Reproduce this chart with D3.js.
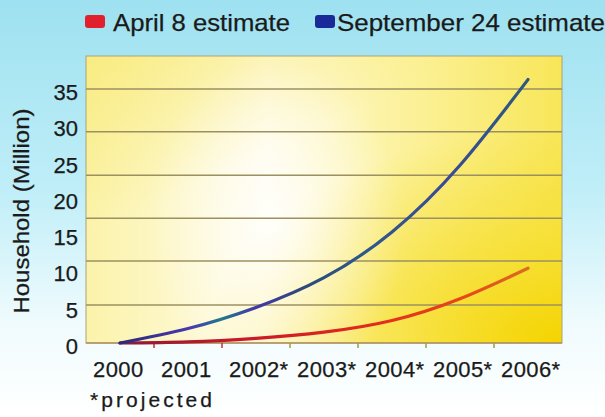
<!DOCTYPE html>
<html>
<head>
<meta charset="utf-8">
<script src="https://cdn.jsdelivr.net/npm/d3@7"></script>
<style>
  html, body { margin: 0; padding: 0; background: #fff; }
  svg { display: block; }
  text { font-family: "Liberation Sans", Arial, sans-serif; fill: #1a1a1a; stroke: #1a1a1a; stroke-width: 0.25px; }
</style>
</head>
<body>
<svg id="chart"></svg>
<script>
let years = ['2000', '2001', '2002*', '2003*', '2004*', '2005*', '2006*']
let april = [0, 0.15, 0.65, 1.5, 3.1, 6.1, 10.3]
let september = [0, 2.0, 4.9, 9.0, 15.3, 24.5, 36.3]
let y_ticks = [0, 5, 10, 15, 20, 25, 30, 35]
let grid_values = [5.25, 11.3, 17.2, 23.1, 29.1, 35]
let legend_items = ['April 8 estimate', 'September 24 estimate']

let width = 605
let height = 417

let pad = {
    'l': 86,
    'r': 43,
    't': 56,
    'b': 74
}

let svg = d3.select('#chart')
    .attr('width', width)
    .attr('height', height)

let defs = svg.append('defs')

function add_stops(grad, stops) {
    grad.selectAll('stop').data(stops).enter()
        .append('stop')
        .attr('offset', d => d[0])
        .attr('stop-color', d => d[1])
        .attr('stop-opacity', d => d.length > 2 ? d[2] : 1)
}

// page background, cyan fading to white
add_stops(defs.append('linearGradient')
    .attr('id', 'bg').attr('x1', 0).attr('y1', 0).attr('x2', 0).attr('y2', 1),
    [[0, '#9ee1f0'], [0.45, '#bfeef8'], [0.78, '#f0fbfd'], [1, '#ffffff']])

// plot area: pale yellow left, white middle, yellow right
add_stops(defs.append('linearGradient')
    .attr('id', 'plotbg').attr('x1', 0).attr('y1', 0).attr('x2', 1).attr('y2', 0),
    [[0, '#fbf3aa'], [0.38, '#fffbe8'], [0.62, '#fcf3a6'], [1, '#f8e658']])

add_stops(defs.append('linearGradient')
    .attr('id', 'topleft').attr('x1', 0).attr('y1', 0).attr('x2', 0.6).attr('y2', 0.8),
    [[0, '#f8ea78', 0.8], [0.5, '#f8ea78', 0], [1, '#f8ea78', 0]])

add_stops(defs.append('radialGradient')
    .attr('id', 'corner').attr('cx', 1).attr('cy', 1).attr('r', 0.75),
    [[0, '#f4d400', 1], [0.5, '#f6dc20', 0.6], [1, '#f6dc20', 0]])

add_stops(defs.append('radialGradient')
    .attr('id', 'glow').attr('cx', 0.5).attr('cy', 0.5).attr('r', 0.5),
    [[0, '#ffffff', 0.8], [0.6, '#ffffff', 0.3], [1, '#ffffff', 0]])

svg.append('rect')
    .attr('width', width).attr('height', height)
    .attr('fill', 'url(#bg)')

let x = d3.scaleBand()
    .domain(years)
    .range([pad.l, width - pad.r])
    .padding(0)

let y = d3.scaleLinear()
    .domain([0, 35])
    .range([height - pad.b, pad.t + 33])

let cx = d => x(d) + x.bandwidth() / 2

let plot_w = width - pad.l - pad.r
let plot_h = height - pad.b - pad.t

let plot = svg.append('g')
plot.selectAll('rect').data(['plotbg', 'topleft', 'corner']).enter()
    .append('rect')
    .attr('x', pad.l).attr('y', pad.t)
    .attr('width', plot_w).attr('height', plot_h)
    .attr('fill', d => `url(#${d})`)

svg.append('ellipse')
    .attr('cx', x('2003*') - 15).attr('cy', y(16))
    .attr('rx', 130).attr('ry', 170)
    .attr('fill', 'url(#glow)')

// frame
svg.append('rect')
    .attr('x', pad.l).attr('y', pad.t)
    .attr('width', plot_w).attr('height', plot_h)
    .attr('fill', 'none')
    .attr('stroke', '#a8a37a')
    .attr('stroke-width', 1)

svg.selectAll('line.grid').data(grid_values).enter()
    .append('line')
    .classed('grid', true)
    .attr('x1', pad.l).attr('x2', width - pad.r)
    .attr('y1', d => y(d)).attr('y2', d => y(d))
    .attr('stroke', '#9c9060')
    .attr('stroke-width', 1.5)

// bottom axis line and ticks between years
svg.append('line')
    .attr('x1', pad.l).attr('x2', width - pad.r)
    .attr('y1', y(0)).attr('y2', y(0))
    .attr('stroke', '#b09060')
    .attr('stroke-width', 1.5)

svg.selectAll('line.tick').data(years.slice(1)).enter()
    .append('line')
    .classed('tick', true)
    .attr('x1', d => x(d)).attr('x2', d => x(d))
    .attr('y1', y(0)).attr('y2', y(0) + 5)
    .attr('stroke', (d, i) => i < 2 ? '#c03040' : '#a0a040')
    .attr('stroke-width', 1.5)

// line gradients along x
let blue_grad = defs.append('linearGradient')
    .attr('id', 'bluegrad')
    .attr('gradientUnits', 'userSpaceOnUse')
    .attr('x1', cx('2000')).attr('x2', cx('2006*')).attr('y1', 0).attr('y2', 0)
add_stops(blue_grad, [[0, '#2a2a78'], [0.17, '#4a38b0'], [0.25, '#1f7a8c'], [0.33, '#4238a8'],
    [0.45, '#2e4a78'], [0.6, '#2d5a8c'], [0.8, '#3a4a98'], [1, '#2c5a7c']])

let red_grad = defs.append('linearGradient')
    .attr('id', 'redgrad')
    .attr('gradientUnits', 'userSpaceOnUse')
    .attr('x1', cx('2000')).attr('x2', cx('2006*')).attr('y1', 0).attr('y2', 0)
add_stops(red_grad, [[0, '#8a1a3a'], [0.3, '#c81a28'], [0.6, '#e02a1c'], [0.85, '#e8481a'], [1, '#d8701e']])

let line = d3.line()
    .x((d, i) => cx(years[i]))
    .y(d => y(Math.max(0, d)))
    .curve(d3.curveNatural)

svg.append('path')
    .datum(april)
    .attr('d', line)
    .attr('fill', 'none')
    .attr('stroke', 'url(#redgrad)')
    .attr('stroke-width', 3.2)
    .attr('stroke-linecap', 'round')

svg.append('path')
    .datum(september)
    .attr('d', line)
    .attr('fill', 'none')
    .attr('stroke', 'url(#bluegrad)')
    .attr('stroke-width', 3.2)
    .attr('stroke-linecap', 'round')

// y tick labels
svg.selectAll('text.ylab').data(y_ticks).enter()
    .append('text')
    .classed('ylab', true)
    .attr('x', pad.l - 8)
    .attr('y', d => y(d) + 11)
    .attr('text-anchor', 'end')
    .style('font-size', '22px')
    .text(d => d)

// x tick labels
svg.selectAll('text.xlab').data(years).enter()
    .append('text')
    .classed('xlab', true)
    .attr('x', d => cx(d) - 27)
    .attr('y', y(0) + 34)
    .style('font-size', '22px')
    .style('letter-spacing', '0.4px')
    .text(d => d)

svg.append('text')
    .attr('transform', `translate(29, ${y(17.5) - 5}) rotate(-90)`)
    .attr('text-anchor', 'middle')
    .attr('textLength', 205)
    .attr('lengthAdjust', 'spacingAndGlyphs')
    .style('font-size', '22px')
    .text('Household (Million)')

svg.append('text')
    .attr('x', 90).attr('y', 407)
    .attr('textLength', 122)
    .attr('lengthAdjust', 'spacing')
    .style('font-size', '21px')
    .text('*projected')

// legend
let legend_colors = ['#e0202c', '#1a2a98']
let legend_x = [85, 315]
let legend_len = [177, 268]

let legend = svg.selectAll('g.legend').data(legend_items).enter()
    .append('g')
    .classed('legend', true)
    .attr('transform', (d, i) => `translate(${legend_x[i]}, 15)`)

legend.append('rect')
    .attr('width', 20).attr('height', 13)
    .attr('rx', 3)
    .attr('fill', (d, i) => legend_colors[i])

legend.append('text')
    .attr('x', (d, i) => i === 0 ? 28 : 22)
    .attr('y', 16)
    .attr('textLength', (d, i) => legend_len[i])
    .attr('lengthAdjust', 'spacingAndGlyphs')
    .style('font-size', '24px')
    .text(d => d)
</script>
</body>
</html>
